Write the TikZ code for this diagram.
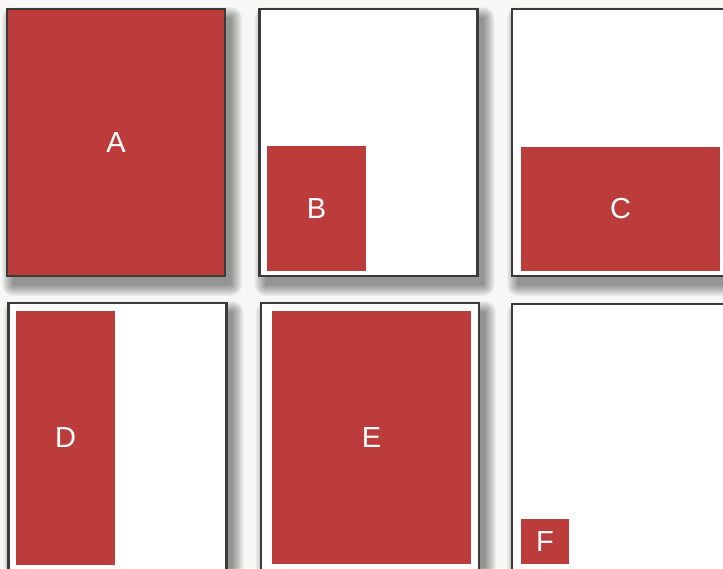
\documentclass[tikz,border=0pt]{standalone}
\usepackage{fontspec}
\setmainfont{Liberation Sans}
\pgfdeclarelayer{back}
\pgfdeclarelayer{shade}
\pgfsetlayers{back,shade,main}
\definecolor{brick}{HTML}{BC3C3C}
\definecolor{frame}{HTML}{3A3A3A}
\definecolor{paper}{HTML}{F7F7F5}
\tikzset{
  outerbox/.style={draw=frame, line width=2.2pt, fill=white, minimum width=218pt, minimum height=267pt, inner sep=0pt, outer sep=0pt},
  redbox/.style={fill=brick, text=white, inner sep=0pt, outer sep=0pt, font=\fontsize{29}{34}\selectfont},
}
\begin{document}
\begin{tikzpicture}[x=1pt,y=-1pt]
\useasboundingbox (0,0) rectangle (723,568);
\clip (0,0) rectangle (723,568);
\begin{pgfonlayer}{back}
\fill[paper] (0,0) rectangle (723,568);
\end{pgfonlayer}
% outer boxes
\node[outerbox, fill=brick, text=white, font=\fontsize{29}{34}\selectfont] (A) at (116,142.5) {A};
\node[outerbox] (Bo) at (368.5,142.5) {};
\node[outerbox] (Co) at (621,142.5) {};
\node[outerbox] (Do) at (117.5,436.5) {};
\node[outerbox] (Eo) at (370,436.5) {};
\node[outerbox] (Fo) at (621,437.5) {};
% red inner boxes
\node[redbox, minimum width=99pt, minimum height=125pt] (B) at (316.5,208.5) {B};
\node[redbox, minimum width=199pt, minimum height=124pt] (C) at (620.5,209) {C};
\node[redbox, minimum width=99pt, minimum height=254pt] (D) at (65.5,438) {D};
\node[redbox, minimum width=199pt, minimum height=253pt] (E) at (371.5,437.5) {E};
\node[redbox, minimum width=48pt, minimum height=45pt] (F) at (545,541.5) {F};
% shadows
\begin{pgfonlayer}{shade}
\foreach \n in {A,Bo,Co,Do,Eo,Fo}{
  \foreach \r in {0,...,11}{
    \fill[black, opacity=0.038, rounded corners=\r pt]
      ([shift={(6-\r,9-\r)}]\n.north west) rectangle ([shift={(6+\r,9+\r)}]\n.south east);
  }
}
\end{pgfonlayer}
\end{tikzpicture}
\end{document}
